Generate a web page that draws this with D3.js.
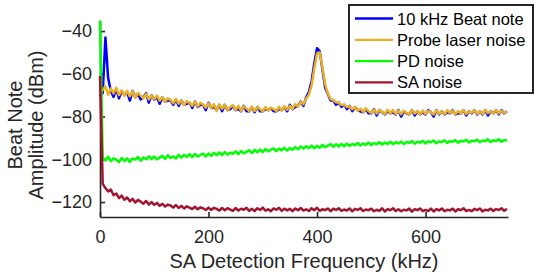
<!DOCTYPE html>
<html>
<head>
<meta charset="utf-8">
<script src="https://cdn.jsdelivr.net/npm/d3@7"></script>
<style>
  body { margin: 0; background: #fff; }
  svg { display: block; font-family: "Liberation Sans", Arial, Helvetica, sans-serif; }
</style>
</head>
<body>
<svg id="chart"></svg>
<script>
// frequency grid of the trace (kHz), one point every 5 kHz
const freqStep = 5;
const freqMax = 750;
const freq = d3.range(0, freqMax + 1, freqStep);

// 10 kHz Beat note (dBm)
const beatNote = [
  -70.5, -69.0, -43.0, -62.0, -68.0, -70.8, -67.0, -71.5, -68.0, -70.0,
  -68.5, -72.5, -68.0, -71.0, -69.5, -72.0, -71.0, -69.0, -73.5, -70.0,
  -72.0, -71.0, -74.0, -71.0, -73.0, -72.5, -72.5, -74.5, -72.0, -75.0,
  -72.5, -74.5, -74.0, -73.5, -76.0, -73.0, -75.5, -74.5, -74.5, -77.0,
  -73.5, -76.0, -75.5, -77.0, -74.5, -77.5, -74.5, -77.0, -76.5, -75.0,
  -77.0, -76.5, -77.5, -75.0, -77.5, -77.5, -75.5, -78.0, -75.5, -77.5,
  -77.5, -76.5, -77.0, -76.0, -77.5, -77.5, -76.5, -77.0, -75.5, -77.5,
  -74.5, -76.5, -75.5, -75.0, -73.0, -75.0, -71.0, -68.5, -63.5, -55.0,
  -48.0, -49.5, -58.0, -66.5, -69.5, -72.5, -72.5, -74.5, -73.5, -75.5,
  -74.5, -76.5, -75.0, -77.5, -75.5, -77.0, -77.5, -78.0, -76.5, -78.5,
  -78.5, -76.5, -79.5, -77.0, -78.0, -79.0, -77.5, -78.5, -78.0, -79.0,
  -77.0, -80.0, -77.5, -78.5, -79.0, -77.0, -79.5, -77.5, -79.0, -78.0,
  -79.0, -77.0, -78.0, -80.0, -77.0, -79.0, -77.5, -79.0, -78.0, -78.5,
  -77.0, -79.0, -78.5, -78.5, -77.0, -79.5, -77.5, -78.5, -77.0, -79.0,
  -77.5, -79.0, -77.0, -79.5, -77.5, -78.5, -77.0, -79.0, -77.0, -78.5,
  -77.5
];

// Probe laser noise (dBm)
const probeNoise = [
  -69.5, -67.5, -66.0, -69.8, -66.8, -69.2, -66.5, -70.0, -67.8, -70.3,
  -68.0, -70.6, -68.2, -71.3, -68.9, -70.2, -71.5, -69.4, -72.0, -70.1,
  -71.8, -70.2, -72.6, -70.9, -73.0, -71.4, -72.2, -73.8, -71.8, -74.0,
  -72.5, -74.6, -72.7, -73.6, -75.0, -73.0, -75.3, -73.5, -74.4, -75.8,
  -73.8, -76.0, -74.2, -77.4, -74.3, -76.4, -74.6, -77.0, -75.5, -74.8,
  -76.9, -75.0, -77.3, -75.2, -76.2, -77.5, -75.3, -77.4, -75.6, -76.5,
  -77.6, -75.5, -77.2, -75.8, -76.5, -77.4, -75.4, -77.2, -75.2, -76.8,
  -75.0, -76.4, -74.2, -75.3, -73.2, -74.2, -71.5, -69.8, -65.5, -57.5,
  -50.5, -50.0, -57.0, -65.0, -69.2, -71.8, -72.4, -73.3, -73.6, -74.6,
  -74.5, -75.6, -75.2, -76.6, -75.5, -77.3, -76.3, -77.8, -76.2, -77.5,
  -78.3, -76.7, -78.6, -76.9, -77.8, -78.9, -76.8, -78.5, -77.0, -78.8,
  -77.2, -78.9, -77.3, -78.2, -79.0, -77.0, -78.6, -77.4, -79.1, -77.2,
  -78.8, -77.3, -78.0, -79.0, -77.1, -78.7, -77.5, -78.9, -77.0, -78.4,
  -77.2, -78.9, -77.4, -78.5, -77.0, -78.8, -77.6, -78.3, -77.0, -78.7,
  -77.4, -78.8, -76.9, -78.4, -77.5, -78.6, -76.9, -78.5, -77.2, -78.3,
  -77.6
];

// PD noise (dBm)
const pdNoise = [
  -35.0, -99.0, -100.6, -98.8, -100.9, -99.5, -100.2, -101.3, -99.4, -100.8,
  -99.6, -101.2, -99.7, -100.1, -98.9, -100.7, -99.2, -100.0, -98.6, -99.9,
  -98.7, -100.0, -99.2, -98.4, -99.8, -98.1, -99.4, -98.7, -99.6, -97.9,
  -99.2, -98.0, -98.8, -97.6, -99.0, -97.5, -98.7, -98.0, -97.3, -98.6,
  -97.3, -98.4, -97.0, -98.0, -96.8, -98.1, -96.6, -97.8, -96.9, -97.4,
  -96.3, -97.6, -96.1, -97.2, -96.5, -95.8, -97.1, -95.6, -96.8, -95.4,
  -96.6, -95.2, -96.3, -95.5, -94.9, -96.2, -95.0, -95.8, -94.6, -95.9,
  -94.7, -95.5, -94.3, -95.3, -94.0, -95.0, -93.9, -94.8, -93.6, -94.9,
  -93.7, -94.6, -93.3, -94.4, -93.5, -92.9, -94.1, -93.0, -94.0, -92.8,
  -93.9, -92.7, -93.6, -92.9, -93.4, -92.4, -93.5, -92.6, -93.2, -92.2,
  -93.3, -92.4, -92.9, -92.0, -93.1, -92.2, -92.8, -91.8, -92.9, -92.0,
  -92.6, -91.7, -92.9, -91.9, -92.3, -91.5, -92.7, -91.8, -92.2, -91.4,
  -92.6, -91.6, -92.0, -91.2, -92.5, -91.7, -91.9, -91.1, -92.4, -91.5,
  -91.8, -91.0, -92.2, -91.4, -91.7, -90.9, -92.1, -91.3, -91.6, -90.8,
  -92.0, -91.2, -91.5, -90.7, -91.9, -91.1, -91.4, -90.6, -91.8, -91.0,
  -91.2
];

// SA noise (dBm)
const saNoise = [
  -61.0, -111.5, -113.5, -115.0, -114.2, -116.8, -116.0, -118.2, -117.0, -118.9,
  -117.9, -119.6, -118.5, -120.2, -119.0, -119.8, -120.8, -119.5, -121.2, -120.0,
  -121.3, -120.4, -121.8, -120.8, -122.1, -121.2, -121.6, -122.6, -121.4, -122.8,
  -121.8, -123.0, -122.0, -122.6, -123.3, -122.2, -123.4, -122.5, -122.9, -123.7,
  -122.6, -123.7, -122.7, -123.2, -124.0, -122.8, -123.8, -122.9, -123.5, -124.1,
  -122.8, -124.0, -123.1, -123.6, -122.7, -124.1, -123.2, -124.2, -122.9, -123.7,
  -122.6, -124.0, -123.4, -124.3, -123.0, -123.6, -122.7, -124.1, -123.1, -123.9,
  -123.2, -124.3, -123.0, -123.8, -122.8, -124.0, -123.4, -124.2, -122.9, -123.8,
  -122.7, -124.1, -123.4, -123.8, -123.0, -124.3, -123.1, -123.7, -122.9, -124.1,
  -123.5, -124.0, -123.0, -124.4, -123.2, -123.7, -122.9, -124.2, -123.5, -123.8,
  -123.1, -124.3, -123.6, -124.1, -122.9, -124.4, -123.3, -123.8, -122.9, -124.2,
  -123.4, -124.3, -123.6, -123.9, -123.1, -124.5, -123.3, -123.8, -123.0, -124.3,
  -123.7, -124.2, -123.1, -124.4, -123.3, -123.9, -123.0, -124.3, -123.6, -123.9,
  -123.1, -124.4, -123.3, -123.8, -122.9, -124.2, -123.7, -124.3, -123.2, -123.8,
  -123.0, -124.4, -123.6, -123.9, -123.1, -124.2, -123.3, -123.7, -122.9, -124.1,
  -123.2
];

const seriesNames = ["10 kHz Beat note", "Probe laser noise", "PD noise", "SA noise"];
const seriesColors = ["#0000FF", "#EDB120", "#00FF00", "#A2142F"];
const seriesValues = [beatNote, probeNoise, pdNoise, saNoise];

const xTicks = [0, 200, 400, 600];
const yTicks = [-120, -100, -80, -60, -40];
const xLabel = "SA Detection Frequency (kHz)";
const yLabelLines = ["Beat Note", "Amplitude (dBm)"];

/* ---------------------------
   dimensions
--------------------------- */
const width = 560;
const height = 275;
const axisColor = "#262626";

const svg = d3.select("#chart")
    .attr("width", width)
    .attr("height", height);

svg.append("rect")
    .attr("width", width)
    .attr("height", height)
    .attr("fill", "#fff");

const x = d3.scaleLinear().domain([0, 752]).range([100, 508]);
const y = d3.scaleLinear().domain([-127, -35]).range([217, 20.4]);

/* ---------------------------
   axes (drawn under the data, like MATLAB)
--------------------------- */
const xAxis = svg.append("g")
    .attr("transform", `translate(0,${y.range()[0]})`)
    .call(d3.axisBottom(x).tickValues(xTicks).tickSizeInner(-5).tickSizeOuter(0).tickPadding(13));

const yAxis = svg.append("g")
    .attr("transform", `translate(${x.range()[0]},0)`)
    .call(d3.axisLeft(y).tickValues(yTicks).tickSizeInner(-5).tickSizeOuter(0).tickPadding(8));

[xAxis, yAxis].forEach(g => {
    g.select(".domain").attr("stroke", axisColor).attr("stroke-width", 1.6);
    g.selectAll(".tick line").attr("stroke", axisColor).attr("stroke-width", 1.6);
    g.selectAll(".tick text")
        .attr("fill", axisColor)
        .attr("font-size", "18px")
        .attr("font-family", "Liberation Sans, Arial, sans-serif");
});

/* ---------------------------
   traces
--------------------------- */
const line = d3.line()
    .x((d, i) => x(freq[i]))
    .y(d => y(d));

svg.append("g")
    .selectAll("path")
    .data(seriesValues)
    .enter()
    .append("path")
    .attr("d", d => line(d))
    .attr("fill", "none")
    .attr("stroke", (d, i) => seriesColors[i])
    .attr("stroke-width", 2.5)
    .attr("stroke-linejoin", "round");

/* ---------------------------
   axis labels
--------------------------- */
svg.append("text")
    .attr("x", (x.range()[0] + x.range()[1]) / 2)
    .attr("y", 268)
    .attr("text-anchor", "middle")
    .attr("font-size", "20px")
    .attr("fill", axisColor)
    .text(xLabel);

const yLab = svg.append("text")
    .attr("transform", "translate(0,125) rotate(-90)")
    .attr("text-anchor", "middle")
    .attr("font-size", "20px")
    .attr("fill", axisColor);

yLab.selectAll("tspan")
    .data(yLabelLines)
    .enter()
    .append("tspan")
    .attr("x", 0)
    .attr("y", (d, i) => 22 + i * 21)
    .text(d => d);

/* ---------------------------
   legend
--------------------------- */
const legend = svg.append("g")
    .attr("transform", "translate(349,5)");

legend.append("rect")
    .attr("width", 184)
    .attr("height", 88)
    .attr("fill", "#fff")
    .attr("stroke", axisColor)
    .attr("stroke-width", 2);

const legendItem = legend.selectAll(".legend-item")
    .data(seriesNames)
    .enter()
    .append("g")
    .attr("class", "legend-item")
    .attr("transform", (d, i) => `translate(0,${13.5 + i * 21.3})`);

legendItem.append("line")
    .attr("x1", 6)
    .attr("x2", 44)
    .attr("stroke", (d, i) => seriesColors[i])
    .attr("stroke-width", 2.3);

legendItem.append("text")
    .attr("x", 48)
    .attr("y", 6)
    .attr("font-size", "16.5px")
    .attr("fill", "#000")
    .text(d => d);
</script>
</body>
</html>
